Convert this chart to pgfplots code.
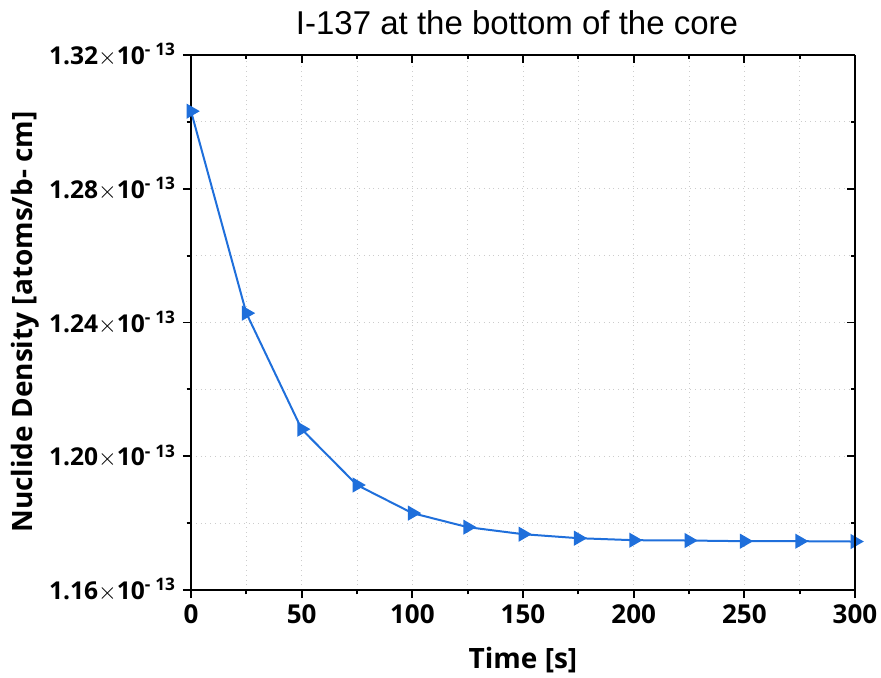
\documentclass[border=0pt]{standalone}
\usepackage{fontspec}
\setmainfont{Open Sans}
\newfontfamily\titlefont{Liberation Sans}
\usepackage{pgfplots}
\pgfplotsset{compat=1.18}
\definecolor{lineblue}{RGB}{31,111,219}
\newcommand{\ex}{{\mdseries$\times$}10\textsuperscript{-\;13}}
\begin{document}
\begin{tikzpicture}
\useasboundingbox (-95.5pt,-43.5pt) rectangle (345pt,295pt);
\begin{axis}[
  at={(0,0)}, anchor=south west,
  scale only axis, width=332pt, height=267.5pt,
  xmin=0, xmax=300, ymin=1.16, ymax=1.32,
  axis x line*=bottom, axis y line*=left,
  axis line style={line width=1pt, black},
  every tick/.style={black, line width=0.9pt},
  tick align=outside,
  major tick length=4pt, minor tick length=2.2pt,
  xtick={0,50,...,300}, minor xtick={25,75,...,275},
  ytick={1.16,1.20,1.24,1.28,1.32}, minor ytick={1.18,1.22,1.26,1.30},
  yticklabels={1.16\ex,1.20\ex,1.24\ex,1.28\ex,1.32\ex},
  /pgf/number format/assume math mode=true,
  ticklabel style={font=\fontsize{12.3}{14}\selectfont\bfseries},
  xticklabel style={font=\fontsize{13}{15}\selectfont\bfseries},
  grid=both,
  major grid style={gray!40, dotted, line width=0.5pt},
  minor grid style={gray!40, dotted, line width=0.5pt},
]
\addplot[lineblue, line width=1pt, mark=triangle*, mark size=3.4pt,
  mark options={rotate=-90, fill=lineblue, draw=lineblue}]
  coordinates {
  (0,1.3032) (25,1.2428) (50,1.2081) (75,1.1914) (100,1.1830)
  (125,1.1788) (150,1.1767) (175,1.1755) (200,1.1749) (225,1.1748)
  (250,1.1746) (275,1.1746) (300,1.1745)
  };
\end{axis}
\begin{axis}[
  at={(0,0)}, anchor=south west,
  scale only axis, width=332pt, height=267.5pt,
  xmin=0, xmax=300, ymin=1.16, ymax=1.32,
  axis x line*=top, axis y line*=right,
  axis line style={line width=1pt, black},
  every tick/.style={black, line width=0.9pt},
  tick align=inside,
  major tick length=4pt, minor tick length=2.2pt,
  xtick={0,50,...,300}, minor xtick={25,75,...,275},
  ytick={1.16,1.20,1.24,1.28,1.32}, minor ytick={1.18,1.22,1.26,1.30},
  xticklabels={}, yticklabels={},
]
\end{axis}
\node[font=\fontsize{14}{16}\selectfont\bfseries] at (166pt,-35pt) {Time [s]};
\node[font=\fontsize{14}{16}\selectfont\bfseries, rotate=90] at (-83pt,134pt) {Nuclide Density [atoms/b- cm]};
\node[font=\titlefont\fontsize{16.5}{19}\selectfont] at (163pt,283.5pt) {I-137 at the bottom of the core};
\end{tikzpicture}
\end{document}
